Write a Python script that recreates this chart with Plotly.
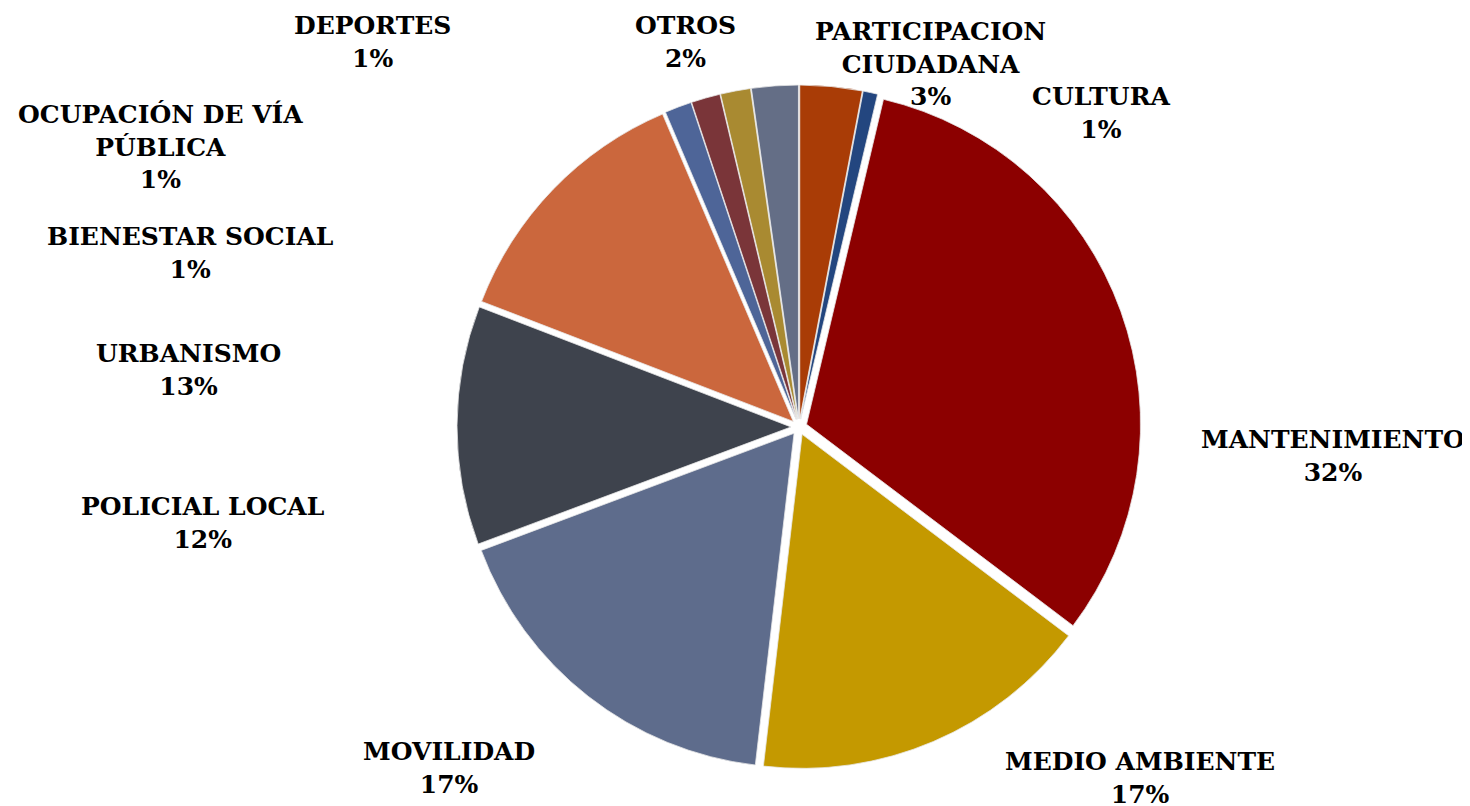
import plotly.graph_objects as go

# ---- data (clockwise from 12 o'clock) ----
categories = ["PARTICIPACION CIUDADANA", "CULTURA", "MANTENIMIENTO", "MEDIO AMBIENTE",
              "MOVILIDAD", "POLICIAL LOCAL", "URBANISMO", "BIENESTAR SOCIAL",
              "OCUPACIÓN DE VÍA PÚBLICA", "DEPORTES", "OTROS"]
values = [3.0, 0.7, 31.6, 16.55, 17.45, 11.55, 12.75, 1.3, 1.4, 1.45, 2.25]

# ---- styling ----
colors = ["#A93C06", "#23467F", "#8C0000", "#C49900", "#5E6C8C", "#3E434D",
          "#CB673D", "#4E6598", "#7A3539", "#A98A31", "#646E86"]
display_names = {
    "PARTICIPACION CIUDADANA": "PARTICIPACION<br>CIUDADANA",
    "OCUPACIÓN DE VÍA PÚBLICA": "OCUPACIÓN DE VÍA<br>PÚBLICA",
}
# label block centres in page pixels (x, y from top)
label_pos = {
    "PARTICIPACION CIUDADANA": (930, 64),
    "CULTURA": (1101, 113),
    "MANTENIMIENTO": (1333, 456),
    "MEDIO AMBIENTE": (1140, 778),
    "MOVILIDAD": (449, 768),
    "POLICIAL LOCAL": (203, 523),
    "URBANISMO": (188, 370),
    "BIENESTAR SOCIAL": (190, 253),
    "OCUPACIÓN DE VÍA PÚBLICA": (160, 147),
    "DEPORTES": (372, 42),
    "OTROS": (685, 42),
}

W, H = 1470, 806
OFF = 8  # default page body margin
cx, cy, R = 799 - OFF, 427 - OFF, 342
pull = 0.024

fig = go.Figure(go.Pie(
    labels=categories, values=values, sort=False, direction="clockwise",
    rotation=0, pull=[pull] * len(values),
    marker=dict(colors=colors, line=dict(color="#e8e8e8", width=0.8)),
    textinfo="none", hoverinfo="none", showlegend=False,
    domain=dict(x=[(cx - R) / W, (cx + R) / W],
                y=[(H - cy - R) / H, (H - cy + R) / H]),
))

total = sum(values)
for name, v in zip(categories, values):
    px, py = label_pos[name]
    px, py = px - OFF, py - OFF
    txt = f"<b>{display_names.get(name, name)}<br>{round(v / total * 100)}%</b>"
    fig.add_annotation(x=px / W, y=1 - py / H, xref="paper", yref="paper",
                       text=txt, showarrow=False, xanchor="center", yanchor="middle",
                       align="center",
                       font=dict(family="DejaVu Serif", size=25, color="#000000"))

fig.update_layout(width=W, height=H, margin=dict(l=0, r=0, t=0, b=0),
                  paper_bgcolor="white", plot_bgcolor="white")
fig.write_html("out.html")
